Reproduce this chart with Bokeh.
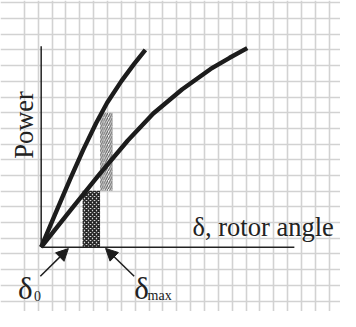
import math
from bokeh.plotting import figure
from bokeh.models import Grid, FixedTicker, Arrow, NormalHead
from bokeh.core.properties import value
from bokeh.embed import file_html
from bokeh.resources import INLINE

# ---------------- data (grid-cell units, origin at axes intersection) ----------------
curve1_x = [0, 0.97, 2.12, 3.04, 3.96, 4.76, 5.80, 6.71, 7.52]
curve1_y = [0, 2.03, 4.40, 6.22, 7.90, 9.20, 10.60, 11.68, 12.58]

curve2_x = [0, 2.12, 4.18, 6.25, 8.09, 10.16, 12.23, 13.60, 14.87]
curve2_y = [0, 2.36, 4.62, 6.80, 8.52, 10.05, 11.36, 12.07, 12.69]

axis_x_end = 18.27
axis_y_end = 12.81

# shaded areas: [checkered area, hatched area]
area_left = [2.99, 4.25]
area_right = [4.25, 5.16]
area_bottom = [0.0, 3.60]
area_top = [3.60, 8.57]

# arrows pointing to delta_0 and delta_max
arrow_x_start = [-0.06, 6.71]
arrow_y_start = [-1.85, -1.85]
arrow_x_end = [1.96, 4.65]
arrow_y_end = [-0.09, -0.08]

# labels (anchored at the middle of the text line)
axis_label_x = ["δ, rotor angle"]
axis_label_x_pos = (10.92, 1.285)
axis_label_y = ["Power"]
axis_label_y_pos = (-1.24, 7.79)
delta_labels = ["δ", "δ"]
delta_x = [-1.675, 6.713]
delta_y = [-2.65, -2.65]
sub_labels = ["0", "max"]
sub_x = [-0.524, 7.678]
sub_y = [-3.10, -3.10]

# ---------------- figure ----------------
W, H = 340, 311
p = figure(width=W, height=H, output_backend="svg", toolbar_location=None,
           x_range=(-2.936, 21.60), y_range=(-4.097, 15.72),
           x_axis_type=None, y_axis_type=None, min_border=0)
p.outline_line_color = None
p.background_fill_color = "white"
p.border_fill_color = "white"

gx0, gy0 = -1.213, 0.57
p.add_layout(Grid(dimension=0, ticker=FixedTicker(ticks=[gx0 + k for k in range(0, 23)]),
                  grid_line_color="#d2d2d2", grid_line_width=1.6))
p.add_layout(Grid(dimension=1, ticker=FixedTicker(ticks=[gy0 + k for k in range(-4, 16)]),
                  grid_line_color="#d2d2d2", grid_line_width=1.6))

# checkered area
p.quad(left=area_left[:1], right=area_right[:1], bottom=area_bottom[:1], top=area_top[:1],
       fill_color="#e6e6e6", line_color=None,
       hatch_pattern="x", hatch_color="#262626", hatch_scale=4, hatch_weight=1.8)
# hatched area
p.quad(left=area_left[1:], right=area_right[1:], bottom=area_bottom[1:], top=area_top[1:],
       fill_color="#f6f6f6", line_color=None,
       hatch_pattern="/", hatch_color="#5a5a5a", hatch_scale=4.5, hatch_weight=1.1)

# curves
p.line(curve1_x, curve1_y, line_width=4.4, line_color="#1c1c1c", line_cap="butt", line_join="round")
p.line(curve2_x, curve2_y, line_width=4.4, line_color="#1c1c1c", line_cap="butt", line_join="round")

# axes
p.line([0, 0], [0, axis_y_end], line_width=1.5, line_color="#222222")
p.line([0, axis_x_end], [0, 0], line_width=1.5, line_color="#222222")

for xs, ys, xe, ye in zip(arrow_x_start, arrow_y_start, arrow_x_end, arrow_y_end):
    p.add_layout(Arrow(end=NormalHead(size=12, fill_color="#1c1c1c", line_color="#1c1c1c"),
                       x_start=xs, y_start=ys, x_end=xe, y_end=ye,
                       line_width=1.5, line_color="#1c1c1c"))

serif = value("Liberation Serif")
p.text(x=[axis_label_x_pos[0]], y=[axis_label_x_pos[1]], text=axis_label_x,
       text_font=serif, text_font_size="26.5px", text_color="#222222",
       text_align="left", text_baseline="middle")
p.text(x=[axis_label_y_pos[0]], y=[axis_label_y_pos[1]], text=axis_label_y,
       text_font=serif, text_font_size="26.5px", text_color="#222222",
       text_align="center", text_baseline="middle", angle=math.pi / 2)
p.text(x=delta_x, y=delta_y, text=delta_labels,
       text_font=serif, text_font_size="31px", text_color="#222222",
       text_align="left", text_baseline="middle")
p.text(x=sub_x, y=sub_y, text=sub_labels,
       text_font=serif, text_font_size="14px", text_color="#222222",
       text_align="left", text_baseline="middle")

open("out.html", "w").write(file_html(p, INLINE))
